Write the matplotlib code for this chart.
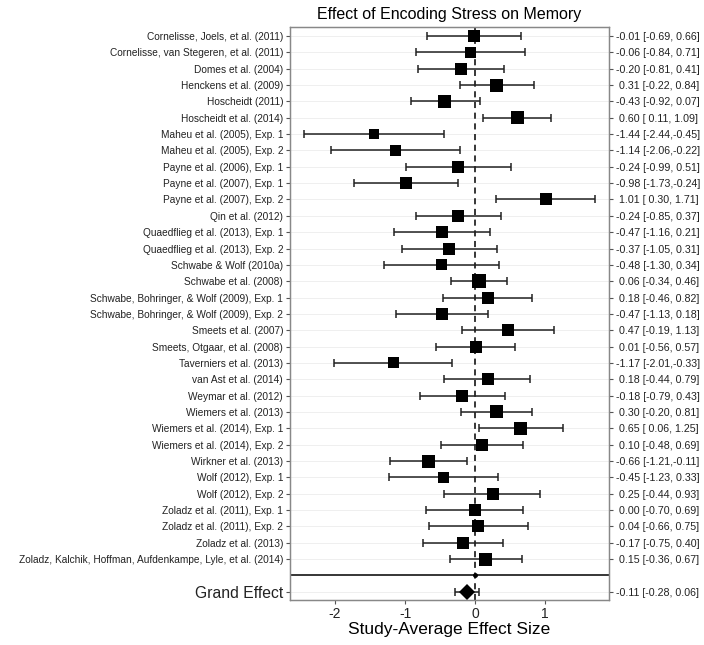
import matplotlib
matplotlib.use('Agg')
from matplotlib import pyplot as plt

plt.rcParams['font.family'] = ['Liberation Sans', 'DejaVu Sans']

studies = [
   'Cornelisse, Joels, et al. (2011)',
   'Cornelisse, van Stegeren, et al. (2011)',
   'Domes et al. (2004)',
   'Henckens et al. (2009)',
   'Hoscheidt (2011)',
   'Hoscheidt et al. (2014)',
   'Maheu et al. (2005), Exp. 1',
   'Maheu et al. (2005), Exp. 2',
   'Payne et al. (2006), Exp. 1',
   'Payne et al. (2007), Exp. 1',
   'Payne et al. (2007), Exp. 2',
   'Qin et al. (2012)',
   'Quaedflieg et al. (2013), Exp. 1',
   'Quaedflieg et al. (2013), Exp. 2',
   'Schwabe & Wolf (2010a)',
   'Schwabe et al. (2008)',
   'Schwabe, Bohringer, & Wolf (2009), Exp. 1',
   'Schwabe, Bohringer, & Wolf (2009), Exp. 2',
   'Smeets et al. (2007)',
   'Smeets, Otgaar, et al. (2008)',
   'Taverniers et al. (2013)',
   'van Ast et al. (2014)',
   'Weymar et al. (2012)',
   'Wiemers et al. (2013)',
   'Wiemers et al. (2014), Exp. 1',
   'Wiemers et al. (2014), Exp. 2',
   'Wirkner et al. (2013)',
   'Wolf (2012), Exp. 1',
   'Wolf (2012), Exp. 2',
   'Zoladz et al. (2011), Exp. 1',
   'Zoladz et al. (2011), Exp. 2',
   'Zoladz et al. (2013)',
   'Zoladz, Kalchik, Hoffman, Aufdenkampe, Lyle, et al. (2014)',
]
effect = [-0.01, -0.06, -0.20, 0.31, -0.43, 0.60, -1.44, -1.14, -0.24, -0.98, 1.01,
          -0.24, -0.47, -0.37, -0.48, 0.06, 0.18, -0.47, 0.47, 0.01, -1.17, 0.18,
          -0.18, 0.30, 0.65, 0.10, -0.66, -0.45, 0.25, 0.00, 0.04, -0.17, 0.15]
lower = [-0.69, -0.84, -0.81, -0.22, -0.92, 0.11, -2.44, -2.06, -0.99, -1.73, 0.30,
         -0.85, -1.16, -1.05, -1.30, -0.34, -0.46, -1.13, -0.19, -0.56, -2.01, -0.44,
         -0.79, -0.20, 0.06, -0.48, -1.21, -1.23, -0.44, -0.70, -0.66, -0.75, -0.36]
upper = [0.66, 0.71, 0.41, 0.84, 0.07, 1.09, -0.45, -0.22, 0.51, -0.24, 1.71,
         0.37, 0.21, 0.31, 0.34, 0.46, 0.82, 0.18, 1.13, 0.57, -0.33, 0.79,
         0.43, 0.81, 1.25, 0.69, -0.11, 0.33, 0.93, 0.69, 0.75, 0.40, 0.67]
# box size of each study in pixels
box_px = [12, 11, 12, 13, 13, 13, 10, 11, 12, 12, 12,
          12, 12, 12, 11, 13.5, 12, 12, 12, 12, 11, 12,
          12, 13, 13, 12, 13, 11, 12, 12, 12, 12, 13]
grand_label = 'Grand Effect'
grand = [-0.11, -0.28, 0.06]

def ci_text(m, lo, hi):
   return f'{m:5.2f} [{lo:5.2f},{hi:5.2f}]'

n = len(studies)
ypos = [n + 1 - i for i in range(n)]  # top study highest, grand effect at 0

fig = plt.figure(figsize=(7.04, 6.45), dpi=100)
ax = fig.add_axes([290/704, 1 - 600/645, (609 - 290)/704, (600 - 27)/645])

for y in ypos + [0]:
   ax.axhline(y, color='#ededed', lw=0.6, zorder=0)
ax.axvline(0, color='black', ls=(0, (4, 3)), lw=1.1, zorder=1)
ax.axhline(1, color='black', lw=1.1, zorder=1)
ax.plot([0], [1], 'o', color='black', ms=2.5, zorder=2)

ax.errorbar(effect, ypos, xerr=[[e - l for e, l in zip(effect, lower)],
                                [u - e for e, u in zip(effect, upper)]],
            fmt='none', ecolor='#222222', elinewidth=1.1, capsize=3.2, capthick=1.1, zorder=2)
ax.scatter(effect, ypos, marker='s', s=[(b * 0.72) ** 2 for b in box_px],
           color='black', linewidths=0, zorder=3)

ax.errorbar([grand[0]], [0], xerr=[[grand[0] - grand[1]], [grand[2] - grand[0]]],
            fmt='none', ecolor='#222222', elinewidth=1.1, capsize=3.2, capthick=1.1, zorder=2)
ax.plot([grand[0]], [0], marker='D', color='black', ms=8.5, mew=0, zorder=3)

ax.set_xlim(-2.643, 1.914)
ax.set_ylim(-0.5, n + 1.55)
ax.set_xticks([-2, -1, 0, 1])
ax.set_xticklabels(['-2', '-1', '0', '1'], fontsize=10, color='#222222')

ax.set_yticks(ypos + [0])
ax.set_yticklabels(studies + [grand_label], fontsize=7.3, color='#222222')
ax.get_yticklabels()[-1].set_fontsize(11.3)
ax.tick_params(axis='both', color='#555555', length=3, width=0.8, pad=2)

ax2 = ax.twinx()
ax2.set_ylim(ax.get_ylim())
ax2.set_yticks(ypos + [0])
ax2.set_yticklabels([ci_text(e, l, u) for e, l, u in zip(effect, lower, upper)]
                    + [ci_text(*grand)], fontsize=7.7, color='#222222')
ax2.tick_params(axis='y', color='#555555', length=3, width=0.8, pad=2)

for a in (ax, ax2):
   for s in a.spines.values():
      s.set_color('#888888')
      s.set_linewidth(0.9)

ax.set_title('Effect of Encoding Stress on Memory', fontsize=11.5, pad=6)
ax.set_xlabel('Study-Average Effect Size', fontsize=12.5, labelpad=1)

fig.savefig('out.png', dpi=100)
